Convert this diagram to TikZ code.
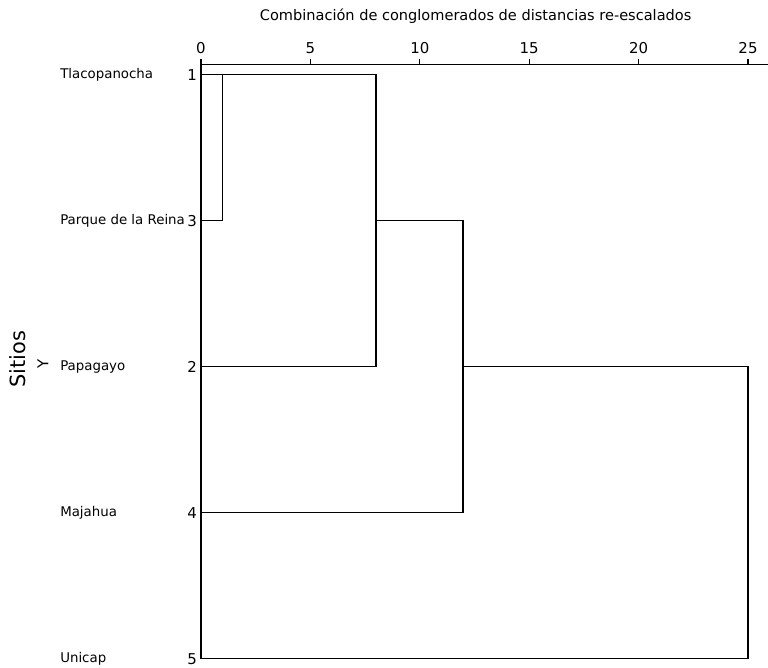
\documentclass[tikz,border=0pt]{standalone}
\usepackage{fontspec}
\setmainfont{DejaVu Sans}
\usepackage{tikz}

\begin{document}
\begin{tikzpicture}[x=21.88bp,y=-146bp,font=\fontsize{13.4}{16}\selectfont]
\useasboundingbox (-9.186,-0.512) rectangle (25.914,4.063);
% axis
\draw[line width=1.2bp] (0,-0.0685) node (ax0) {} -- (25.9,-0.0685);
\foreach \t in {0,5,...,25}
  \draw[line width=1.2bp] (\t,-0.0685) -- (\t,-0.11) node [anchor=south,inner sep=0pt,yshift=4bp,font=\fontsize{15}{18}\selectfont] {\t};
\node[font=\fontsize{14.6}{18}\selectfont] (title) at (12.55,-0.4) {Combinación de conglomerados de distancias re-escalados};
\draw[line width=1.2bp] (0,-0.0685) -- (0,4);
% sitios
\coordinate (l1) at (0,0);
\coordinate (l3) at (0,1);
\coordinate (l2) at (0,2);
\coordinate (l4) at (0,3);
\coordinate (l5) at (0,4);
\tikzset{num/.style={anchor=east,inner sep=0pt,xshift=-4bp,font=\fontsize{15}{18}\selectfont}}
\node [num] at (l1) {1};
\node [num] at (l3) {3};
\node [num] at (l2) {2};
\node [num] at (l4) {4};
\node [num] at (l5) {5};
\node [anchor=west,inner sep=0pt] at (-6.44,0) {Tlacopanocha};
\node [anchor=west,inner sep=0pt] at (-6.44,1) {Parque de la Reina};
\node [anchor=west,inner sep=0pt] at (-6.44,2) {Papagayo};
\node [anchor=west,inner sep=0pt] at (-6.44,3) {Majahua};
\node [anchor=west,inner sep=0pt] at (-6.44,4) {Unicap};
\node [rotate=90,font=\fontsize{21}{24}\selectfont] (sitios) at (-8.36,1.95) {Sitios};
\node [rotate=90,font=\fontsize{15}{18}\selectfont] (yy) at (-7.22,1.98) {Y};
% uniones
\coordinate (a1) at (1,0);
\coordinate (a3) at (1,1);
\coordinate (b1) at (8,0);
\coordinate (b3) at (8,1);
\coordinate (b2) at (8,2);
\coordinate (c3) at (11.97,1);
\coordinate (c2) at (11.97,2);
\coordinate (c4) at (11.97,3);
\coordinate (d2) at (25,2);
\coordinate (d5) at (25,4);
\draw[line width=1.2bp] (l1) -- (b1) -- (b2) -- (l2);
\draw[line width=1.2bp] (a1) -- (a3) -- (l3);
\draw[line width=1.2bp] (b3) -- (c3) -- (c4) -- (l4);
\draw[line width=1.2bp] (c2) -- (d2) -- (d5) -- (l5);
\end{tikzpicture}
\end{document}
